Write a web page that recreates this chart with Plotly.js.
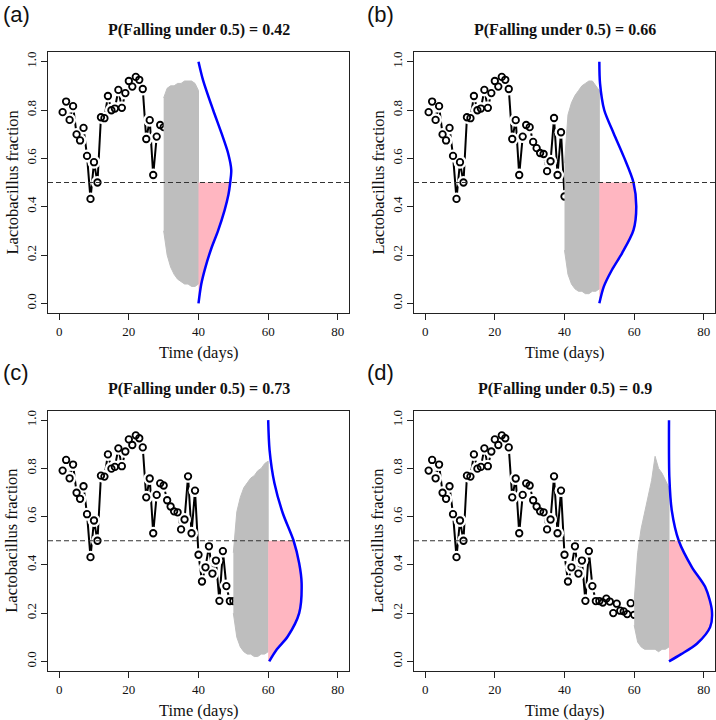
<!DOCTYPE html>
<html><head><meta charset="utf-8">
<script src="https://cdn.plot.ly/plotly-3.0.1.min.js"></script>
<style>body{margin:0;background:#fff}#chart{width:716px;height:720px}</style>
</head><body><div id="chart"></div>
<script>
// ---- data ----
const obsDays = [1,2,3,4,5,6,7,8,9,10,11,12,13,14,15,16,17,18,19,20,21,22,23,24,25,26,27,28,29,30,
                 31,32,33,34,35,36,37,38,39,40,41,42,43,44,45,46,47,48,49,50,51,52,53,54,55,56,57,58,59,60];
const obsFraction = [0.791,0.835,0.759,0.816,0.699,0.674,0.726,0.610,0.432,0.584,
                     0.500,0.770,0.766,0.858,0.799,0.806,0.883,0.809,0.870,0.920,
                     0.897,0.937,0.925,0.887,0.680,0.758,0.531,0.690,0.738,0.729,
                     0.668,0.642,0.622,0.618,0.547,0.588,0.767,0.531,0.708,0.442,
                     0.331,0.390,0.477,0.364,0.418,0.251,0.457,0.312,0.250,0.250,
                     0.244,0.260,0.248,0.200,0.239,0.210,0.207,0.196,0.241,0.193];
const obsCount = [30, 40, 50, 60];
const panelLabels = ['(a)', '(b)', '(c)', '(d)'];
const panelTitles = ['P(Falling under 0.5) = 0.42', 'P(Falling under 0.5) = 0.66',
                     'P(Falling under 0.5) = 0.73', 'P(Falling under 0.5) = 0.9'];
const forecastStart = [30, 40, 50, 60];
const forecastEnd = [40, 50, 60, 70];

// simulated-trajectory envelope (one value per day from start to end)
const bandUpperA = [0.85,0.89,0.90,0.90,0.91,0.91,0.92,0.92,0.92,0.91,0.88];
const bandLowerA = [0.30,0.20,0.15,0.12,0.10,0.09,0.08,0.08,0.07,0.07,0.08];
const bandUpperB = [0.58,0.78,0.83,0.86,0.88,0.90,0.91,0.92,0.92,0.90,0.88];
const bandLowerB = [0.22,0.12,0.08,0.06,0.05,0.05,0.04,0.04,0.05,0.05,0.06];
const bandUpperC = [0.45,0.62,0.68,0.72,0.74,0.76,0.77,0.79,0.80,0.82,0.83];
const bandLowerC = [0.20,0.10,0.06,0.04,0.03,0.03,0.02,0.02,0.03,0.03,0.04];
const bandUpperD = [0.25,0.45,0.55,0.62,0.68,0.75,0.85,0.80,0.78,0.75,0.72];
const bandLowerD = [0.15,0.08,0.06,0.05,0.05,0.05,0.05,0.04,0.05,0.05,0.06];

// density curve: fraction level and horizontal extent (days) from the forecast end
const densLevelA = [0, 0.08, 0.15, 0.228, 0.30, 0.386, 0.45, 0.50, 0.552, 0.621, 0.704, 0.80, 0.924, 1.0];
const densWidthA = [0, 0.8, 2.0, 3.7, 5.6, 7.5, 8.6, 9.1, 9.4, 8.5, 6.6, 4.2, 1.3, 0];
const densLevelB = [0, 0.07, 0.138, 0.207, 0.303, 0.40, 0.50, 0.607, 0.704, 0.80, 0.91, 1.0];
const densWidthB = [0, 1.3, 3.6, 6.5, 9.8, 10.6, 9.8, 7.0, 4.1, 1.4, 0.2, 0];
const densLevelC = [0, 0.05, 0.103, 0.20, 0.324, 0.407, 0.50, 0.614, 0.738, 0.876, 1.0];
const densWidthC = [0.3, 2.5, 5.6, 8.9, 9.6, 8.9, 7.3, 4.2, 1.8, 0.4, 0];
const densLevelD = [0, 0.03, 0.073, 0.142, 0.211, 0.308, 0.39, 0.50, 0.625, 0.763, 1.0];
const densWidthD = [0, 3.5, 8.0, 11.8, 12.3, 10.4, 6.6, 2.8, 0.8, 0.1, 0];

const xTicks = [0, 20, 40, 60, 80];
const yTicks = [0, 0.2, 0.4, 0.6, 0.8, 1.0];
const threshold = 0.5;

// ---- build ----
const bandsU = [bandUpperA, bandUpperB, bandUpperC, bandUpperD];
const bandsL = [bandLowerA, bandLowerB, bandLowerC, bandLowerD];
const densL = [densLevelA, densLevelB, densLevelC, densLevelD];
const densW = [densWidthA, densWidthB, densWidthC, densWidthD];

const W = 716, H = 720;
const colPx = [[48, 349], [414, 715]];
const rowPx = [[52, 313], [410.5, 671]];

const traces = [];
const layout = {
  width: W, height: H, margin: {l: 0, r: 0, t: 0, b: 0},
  paper_bgcolor: '#fff', plot_bgcolor: '#fff', showlegend: false,
  shapes: [], annotations: []
};
const serif = 'Liberation Serif, Times New Roman, serif';

for (let p = 0; p < 4; p++) {
  const col = p % 2, row = Math.floor(p / 2);
  const xs = p === 0 ? '' : String(p + 1);
  const xa = 'x' + xs, ya = 'y' + xs;
  const n = obsCount[p];
  const dx = obsDays.slice(0, n), dy = obsFraction.slice(0, n);

  traces.push({x: dx, y: dy, xaxis: xa, yaxis: ya, mode: 'lines', type: 'scatter',
               line: {color: '#000', width: 2}, hoverinfo: 'skip'});
  traces.push({x: dx, y: dy, xaxis: xa, yaxis: ya, mode: 'markers', type: 'scatter',
               marker: {color: '#fff', size: 13, line: {width: 0}}, hoverinfo: 'skip'});
  traces.push({x: dx, y: dy, xaxis: xa, yaxis: ya, mode: 'markers', type: 'scatter',
               marker: {symbol: 'circle-open', color: '#000', size: 6.5, line: {width: 1.8, color: '#000'}}});

  // gray simulated band
  const days = [];
  for (let t = forecastStart[p]; t <= forecastEnd[p]; t++) days.push(t);
  const bx = days.concat(days.slice().reverse());
  const by = bandsU[p].concat(bandsL[p].slice().reverse());
  traces.push({x: bx, y: by, xaxis: xa, yaxis: ya, mode: 'lines', type: 'scatter', fill: 'toself',
               fillcolor: '#bebebe', line: {color: '#bebebe', width: 1}, hoverinfo: 'skip'});

  // density: pink area below threshold (filled to the vertical baseline), then blue curve
  const t0 = forecastEnd[p];
  const lv = densL[p], wd = densW[p];
  const lowV = [], lowX = [], baseX = [];
  for (let i = 0; i < lv.length; i++) {
    if (lv[i] <= threshold) { lowV.push(lv[i]); lowX.push(t0 + wd[i]); baseX.push(t0); }
  }
  traces.push({x: baseX, y: lowV, xaxis: xa, yaxis: ya, mode: 'lines', type: 'scatter',
               line: {color: 'rgba(0,0,0,0)', width: 0}, hoverinfo: 'skip'});
  traces.push({x: lowX, y: lowV, xaxis: xa, yaxis: ya, mode: 'lines', type: 'scatter', fill: 'tonextx',
               fillcolor: '#ffb6c1', line: {color: 'rgba(0,0,0,0)', width: 0, shape: 'spline', smoothing: 0.8},
               hoverinfo: 'skip'});
  traces.push({x: wd.map(w => t0 + w), y: lv, xaxis: xa, yaxis: ya, mode: 'lines', type: 'scatter',
               line: {color: '#0000ff', width: 2.5, shape: 'spline', smoothing: 0.8}, hoverinfo: 'skip'});

  const xd = [colPx[col][0] / W, colPx[col][1] / W];
  const yd = [1 - rowPx[row][1] / H, 1 - rowPx[row][0] / H];
  const axCommon = {showgrid: false, zeroline: false, showline: true, mirror: true,
                    linecolor: '#222', linewidth: 1, ticks: 'outside', ticklen: 6,
                    tickcolor: '#222', tickwidth: 1,
                    tickfont: {family: serif, size: 13, color: '#111'}};
  layout['xaxis' + xs] = Object.assign({}, axCommon, {domain: xd, anchor: ya, range: [-3.2, 83.2],
                    tickvals: xTicks, ticktext: xTicks.map(String)});
  layout['yaxis' + xs] = Object.assign({}, axCommon, {domain: yd, anchor: xa, range: [-0.04, 1.04],
                    tickvals: yTicks, ticktext: yTicks.map(v => v.toFixed(1)), tickangle: -90});

  layout.shapes.push({type: 'line', xref: xa + ' domain', yref: ya, x0: 0, x1: 1, y0: threshold, y1: threshold,
                      line: {color: '#333', width: 1.2, dash: '5px,3px'}, layer: 'above'});

  const cx = (colPx[col][0] + colPx[col][1]) / 2;
  const cy = (rowPx[row][0] + rowPx[row][1]) / 2;
  layout.annotations.push({text: '<b>' + panelTitles[p] + '</b>', xref: 'paper', yref: 'paper',
    x: cx / W, y: 1 - (rowPx[row][0] - 22) / H, xanchor: 'center', yanchor: 'middle', showarrow: false,
    font: {family: serif, size: 16, color: '#111'}});
  layout.annotations.push({text: 'Time (days)', xref: 'paper', yref: 'paper',
    x: cx / W, y: 1 - (rowPx[row][1] + 39) / H, xanchor: 'center', yanchor: 'middle', showarrow: false,
    font: {family: serif, size: 16.5, color: '#111'}});
  layout.annotations.push({text: 'Lactobacillus fraction', xref: 'paper', yref: 'paper', textangle: -90,
    x: (colPx[col][0] - 36) / W, y: 1 - cy / H, xanchor: 'center', yanchor: 'middle', showarrow: false,
    font: {family: serif, size: 16.5, color: '#111'}});
  layout.annotations.push({text: panelLabels[p], xref: 'paper', yref: 'paper',
    x: (col === 0 ? 1 : 365) / W, y: 1 - (row === 0 ? 0 : 358) / H, xanchor: 'left', yanchor: 'top', showarrow: false,
    font: {family: 'Liberation Sans, Arial, sans-serif', size: 22, color: '#111'}});
}

Plotly.newPlot('chart', traces, layout, {staticPlot: true});
</script>
</body></html>
